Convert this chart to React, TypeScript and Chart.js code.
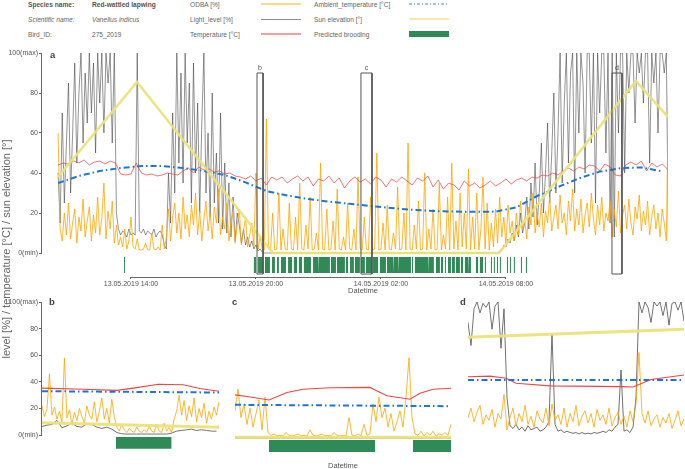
import React, { useEffect, useRef } from 'react';
import { Chart, registerables } from 'chart.js';

Chart.register(...registerables);

const FONT = '"Liberation Sans", Arial, Helvetica, sans-serif';

// ---------------- DATA ----------------
// Main panel (a): time in hours since 13.05.2019 00:00
const xTickValues = [14, 20, 26, 32];
const xTickLabels = ['13.05.2019 14:00', '13.05.2019 20:00', '14.05.2019 02:00', '14.05.2019 08:00'];
const yTickValues = [0, 20, 40, 60, 80, 100];
const yTickLabels = ['0(min)', '20', '40', '60', '80', '100(max)'];

const mainStart = 10.5;
const mainStep = 0.1; // hours between samples of ODBA / light level
const odbaMain = [
  60, 12, 6, 20, 9, 25, 7, 15, 22, 5, 18, 11, 27, 8, 16, 23, 6, 19, 10, 28,
  9, 17, 35, 7, 21, 12, 26, 5, 14, 4, 8, 3, 12, 2, 6, 18, 3, 2, 7, 1.5,
  1.5, 2, 5, 1.5, 1.5, 10, 2, 1.5, 3, 1.5, 14, 2, 8, 22, 6, 18, 25, 10, 20, 7,
  28, 12, 19, 8, 24, 14, 30, 9, 21, 6, 17, 26, 11, 20, 7, 23, 15, 32, 9, 18,
  12, 25, 6, 16, 20, 5, 14, 22, 4, 11, 18, 3, 9, 15, 3, 40, 2, 8, 2, 1.5,
  67, 2, 1.5, 20, 1.5, 2, 30, 1.5, 12, 2, 1.5, 25, 2, 1.5, 18, 1.5, 35, 2, 1.5, 14,
  2, 28, 1.5, 2, 10, 1.5, 45, 2, 1.5, 22, 1.5, 2, 16, 1.5, 32, 2, 1.5, 8, 1.5, 25,
  2, 1.5, 12, 1.5, 38, 2, 1.5, 18, 2, 1.5, 28, 1.5, 2, 50, 1.5, 2, 15, 1.5, 24, 2,
  1.5, 10, 2, 33, 1.5, 2, 20, 1.5, 55, 2, 1.5, 14, 2, 26, 1.5, 2, 40, 1.5, 12, 2,
  22, 1.5, 2, 35, 1.5, 9, 2, 28, 1.5, 45, 2, 16, 1.5, 30, 3, 20, 2, 42, 1.5, 18,
  2, 30, 1.5, 12, 38, 2, 25, 1.5, 15, 3, 22, 5, 28, 8, 18, 4, 24, 10, 16, 6,
  20, 9, 26, 12, 17, 7, 23, 14, 30, 10, 19, 13, 25, 8, 21, 15, 28, 11, 18, 24,
  12, 29, 15, 20, 9, 26, 16, 32, 11, 22, 14, 27, 10, 19, 25, 13, 30, 17, 9, 24,
  14, 28, 11, 20, 16, 26, 8, 22, 13, 31, 10, 19, 24, 12, 27, 15, 9, 23, 17, 29,
  11, 21, 14, 26, 9, 18, 24, 12, 20, 8, 22, 15, 6, 80,
];
const lightMain = [
  40, 15, 70, 25, 55, 85, 30, 60, 95, 45, 80, 100, 55, 90, 65, 100, 70, 95, 50, 100,
  75, 100, 60, 100, 85, 100, 55, 100, 20, 12, 9, 11, 10, 8, 12, 9, 10, 9, 100, 11,
  10, 12, 9, 11, 10, 9, 12, 8, 10, 11, 9, 4, 2, 40, 15, 70, 30, 100, 45, 90,
  35, 100, 55, 85, 25, 95, 40, 75, 20, 65, 100, 30, 60, 18, 80, 25, 50, 15, 70, 12,
  45, 10, 35, 8, 28, 6, 20, 14, 5, 12, 4, 8, 3, 6, 2, 4, 1, 2, 0.5, 0,
  0, 0, 0, 0, 0, 0, 0, 0, 0, 0, 0, 0, 0, 0, 0, 0, 0, 0, 0, 0,
  0, 0, 0, 0, 0, 0, 0, 0, 0, 0, 0, 0, 0, 0, 0, 0, 0, 0, 0, 0,
  0, 0, 0, 0, 0, 0, 0, 0, 0, 0, 0, 0, 0, 0, 0, 0, 0, 0, 0, 0,
  0, 0, 0, 0, 0, 0, 0, 0, 0, 0, 0, 0, 0, 0, 0, 0, 0, 0, 0, 0,
  0, 0, 0, 0, 0, 0, 0, 0, 0, 0, 0, 0, 0, 0, 0, 0, 0, 0, 0, 0,
  0, 0, 0, 0, 0, 0, 0, 0, 0, 0, 0, 0, 1, 2, 4, 3, 7, 5, 10, 6,
  14, 8, 20, 10, 15, 28, 12, 35, 18, 45, 14, 30, 55, 20, 40, 65, 25, 50, 80, 30,
  60, 100, 35, 75, 100, 45, 90, 100, 30, 100, 60, 100, 85, 40, 100, 100, 55, 100, 25, 100,
  70, 100, 100, 50, 100, 15, 100, 8, 100, 60, 100, 100, 40, 100, 80, 100, 100, 65, 100, 90,
  100, 75, 100, 100, 45, 100, 85, 100, 60, 100, 100, 90, 100, 5,
];
const tempStep = 0.25;
const tempMain = [
  44, 45, 44.5, 46, 45, 46.5, 44, 45.5, 46, 44.5, 46, 45,
  39.5, 39, 39.5, 45, 40, 39, 39.5, 38.5, 39, 40, 39.5, 39,
  41, 42.5, 40, 43, 41.5, 42, 40.5, 41, 39.5, 40, 38.5, 38,
  37, 38.5, 36, 37.5, 34, 38, 36.5, 38, 35, 37, 38.5, 36,
  38, 33.5, 37, 36, 38.5, 35, 37.5, 32.5, 36, 38, 35.5, 37,
  34.5, 38, 36.5, 33, 37, 35.5, 38, 36, 34, 37.5, 36, 38.5,
  33, 36.5, 32, 35, 34, 31.5, 36, 33.5, 35, 32.5, 34, 36,
  33.5, 35, 37, 34.5, 36.5, 37.5, 36, 38, 37.5, 39, 38.5, 40,
  39, 41, 42.5, 41, 43, 42, 44, 43.5, 41, 44.5, 43, 39,
  38.5, 44, 45.5, 44, 46, 41, 45, 43, 44.5, 42,
];
const ambientStep = 1;
const ambientMain = [
  35, 38.5, 41, 42.5, 43.5, 43.5, 42.5, 41, 39, 35.3,
  31, 28.7, 27, 25.7, 24.6, 23.5, 22.5, 21.6, 21, 20.7,
  20.6, 20.7, 22.8, 28.5, 33, 37.3, 40.7, 42.4, 42.8, 40.8,
];
const sunMainTimes = [10.5, 14.29, 20.82, 31.67, 38.24, 39.78];
const sunMain = [38, 85.5, 0, 0, 86, 68];
const broodStartMain = [
  13.66, 19.9, 20.1, 20.43, 20.77, 21.01, 21.2, 21.54, 21.82, 22.06, 22.3, 22.74, 23.02, 23.6, 23.89,
  24.32, 24.51, 24.75, 25.04, 25.28, 25.62, 25.95, 26.29, 26.62, 26.86, 27.49, 27.63, 28.3, 28.64,
  28.88, 29.07, 29.22, 29.41, 29.6, 29.84, 30.03, 30.22, 30.42, 30.56, 30.75, 30.99, 31.14, 31.28,
  31.42, 31.57, 31.71, 31.86, 32.05, 32.19, 32.38, 32.58, 32.72, 32.96,
];
const broodEndMain = [
  13.71, 20.0, 20.34, 20.67, 20.91, 21.1, 21.44, 21.73, 21.97, 22.21, 22.64, 22.98, 23.55, 23.84, 24.27,
  24.42, 24.7, 24.99, 25.23, 25.57, 25.86, 26.24, 26.58, 26.82, 27.44, 27.54, 28.26, 28.54, 28.83,
  28.98, 29.12, 29.36, 29.55, 29.79, 29.94, 30.18, 30.32, 30.46, 30.66, 30.9, 31.04, 31.18, 31.33,
  31.47, 31.62, 31.76, 31.9, 32.1, 32.24, 32.43, 32.62, 32.77, 33.01,
];
const zoomLabels = ['b', 'c', 'd'];
const zoomStart = [20.05, 25.04, 37.09];
const zoomEnd = [20.34, 25.57, 37.57];

// Panel b (seconds within window)
const bMax = 1065;
const bOdbaStep = 15;
const bOdba = [
  22, 14, 20, 46, 15, 21, 12, 18, 10, 58,
  13, 19, 8, 17, 11, 20, 14, 9, 22, 15,
  12, 25, 10, 18, 28, 12, 20, 9, 27, 14,
  6, 3, 8, 4, 2, 5, 3, 2, 6, 3,
  2, 4, 2, 7, 3, 2, 8, 3, 2, 9,
  3, 6, 2, 12, 18, 30, 15, 26, 11, 22,
  14, 28, 10, 20, 13, 24, 9, 18, 12, 21,
  15, 25,
];
const bLightStep = 30;
const bLight = [
  6.5, 7.5, 8, 11, 5.5, 7, 9, 6.5, 6, 8.5, 8, 6, 5, 6, 4.5, 2, 1, 0.8,
  0.8, 0.8, 0.8, 0.8, 0.8, 0.8, 0.8, 0.8, 1.5, 3, 3.5, 4, 4.5, 3.5, 4, 3.5, 3, 3,
];
const bTempTimes = [0, 250, 450, 560, 700, 850, 950, 1065];
const bTemp = [35.3, 34.5, 33.6, 35.5, 38.2, 37.8, 35, 33];
const bEdgeTimes = [0, 1065];
const bAmbient = [33, 32];
const bSun = [9.3, 5.9];
const bBroodStart = [444];
const bBroodEnd = [780];

// Panel c
const cMax = 1800;
const cOdbaStep = 25;
const cOdba = [
  20, 36, 15, 25, 10, 22, 8, 18, 28, 6,
  30, 4, 2, 3, 1.5, 2, 1.5, 4, 2, 1.5,
  2, 3, 1.5, 2, 1.5, 6, 2, 1.5, 2, 3,
  1.5, 2, 1.5, 4, 2, 1.5, 2, 1.5, 15, 2,
  1.5, 3, 1.5, 10, 2, 3, 25, 12, 30, 15,
  22, 8, 18, 5, 12, 20, 8, 30, 59, 15,
  3, 2, 5, 1.5, 4, 2, 5, 1.5, 3, 2,
  4, 2, 10,
];
const cTempTimes = [0, 142, 283, 433, 567, 792, 1125, 1167, 1267, 1458, 1542, 1650, 1800];
const cTemp = [31.7, 30, 28, 33.4, 35.8, 37, 37.2, 35.3, 31, 28.5, 32.9, 35.8, 36.6];
const cEdgeTimes = [0, 1800];
const cLight = [0, 0];
const cAmbient = [24.4, 23.4];
const cSun = [0.5, 0.5];
const cBroodStart = [283, 1483];
const cBroodEnd = [1167, 1800];

// Panel d
const dMax = 1800;
const dOdbaStep = 25;
const dOdba = [
  15, 22, 12, 19, 24, 10, 17, 13, 21, 8,
  18, 14, 32, 6, 15, 22, 9, 18, 12, 24,
  10, 16, 8, 20, 14, 11, 22, 9, 25, 13,
  17, 10, 22, 8, 18, 12, 24, 9, 16, 20,
  11, 18, 8, 21, 13, 17, 10, 22, 9, 15,
  19, 10, 16, 8, 20, 12, 25, 63, 18, 11,
  20, 9, 14, 17, 8, 15, 11, 18, 7, 13,
  20, 9, 14,
];
const dLightStep = 25;
const dLight = [
  85, 68, 95, 100, 92, 99, 96, 100, 80, 97,
  100, 66, 95, 30, 9, 7, 10, 6, 8, 5,
  9, 6, 7, 8, 5, 6, 8, 12, 77, 10,
  5, 6, 4, 5, 4, 3.5, 4, 3, 4, 3,
  3.5, 3, 4, 3.5, 4, 5, 4, 6, 5, 8,
  10, 50, 5, 6, 4, 8, 30, 100, 92, 100,
  96, 85, 100, 97, 100, 90, 100, 83, 99, 100,
  94, 100, 86,
];
const dTempTimes = [0, 183, 317, 400, 683, 1292, 1375, 1525, 1800];
const dTemp = [45, 45.5, 44, 40.2, 38.3, 37.8, 37.5, 43, 46.3];
const dEdgeTimes = [0, 1800];
const dAmbient = [42.7, 42.7];
const dSun = [74, 80];

// ---------------- STYLE ----------------
const C_ODBA = 'rgba(255,165,0,0.8)';
const C_LIGHT = 'rgba(60,60,60,0.55)';
const C_TEMP = 'rgba(245,60,60,0.7)';
const C_AMB = '#1c77d1';
const C_SUN = 'rgba(236,226,120,0.95)';
const C_BROOD = '#2e8b57';
const DASH = [6, 3, 1.5, 3];

// ---------------- HELPERS ----------------
const uniform = (start: number, step: number, vals: number[]) => vals.map((v, i) => ({ x: start + i * step, y: v }));
const paired = (xs: number[], ys: number[]) => xs.map((x, i) => ({ x, y: ys[i] }));
const line = (data: any[], color: string, width: number, extra: any = {}) => ({
  data, borderColor: color, borderWidth: width, pointRadius: 0, fill: false, tension: 0, ...extra,
});
const broodDataset = (starts: number[], ends: number[], base: number, top: number) => {
  const pts: any[] = [];
  starts.forEach((s, i) => {
    pts.push({ x: s, y: base }, { x: s, y: top }, { x: ends[i], y: top }, { x: ends[i], y: base });
  });
  return { data: pts, borderWidth: 0, borderColor: 'rgba(0,0,0,0)', pointRadius: 0, tension: 0, fill: { value: base }, backgroundColor: C_BROOD };
};

const decorPlugin = {
  id: 'decor',
  afterDatasetsDraw(chart: any, _args: any, opts: any) {
    const ctx = chart.ctx;
    const xs = chart.scales.x;
    const ys = chart.scales.y;
    ctx.save();
    ctx.strokeStyle = '#666';
    ctx.lineWidth = 1;
    if (opts.yAxis) {
      const px = Math.round(chart.chartArea.left) - 0.5;
      ctx.beginPath();
      ctx.moveTo(px, ys.getPixelForValue(0));
      ctx.lineTo(px, ys.getPixelForValue(100));
      ctx.stroke();
    }
    if (opts.xAxis) {
      const py = Math.round(chart.chartArea.bottom) + 0.5;
      ctx.beginPath();
      ctx.moveTo(xs.getPixelForValue(opts.xAxis[0]), py);
      ctx.lineTo(xs.getPixelForValue(opts.xAxis[1]), py);
      ctx.stroke();
    }
    if (opts.boxes) {
      ctx.fillStyle = '#555';
      ctx.font = `7px ${FONT}`;
      ctx.textAlign = 'center';
      ctx.textBaseline = 'bottom';
      opts.boxes.labels.forEach((lab: string, i: number) => {
        const cx = (xs.getPixelForValue(opts.boxes.start[i]) + xs.getPixelForValue(opts.boxes.end[i])) / 2;
        ctx.fillText(lab, cx, ys.getPixelForValue(opts.boxes.top) - 1);
      });
    }
    ctx.restore();
  },
};

const yScaleVisible = (min: number) => ({
  type: 'linear', min, max: 100,
  afterFit: (s: any) => { s.width = 42; },
  afterBuildTicks: (s: any) => { s.ticks = yTickValues.map((v) => ({ value: v })); },
  grid: { drawOnChartArea: false, drawTicks: true, tickLength: 3, color: '#666' },
  border: { display: false },
  ticks: { padding: 1, color: '#555', font: { size: 7, family: FONT }, callback: (_v: any, i: number) => yTickLabels[i] },
});

function mainConfig(): any {
  const boxTop = 90;
  const boxBottom = -10.5;
  const boxes = zoomLabels.map((_l, i) => line([
    { x: zoomStart[i], y: boxBottom }, { x: zoomStart[i], y: boxTop }, { x: zoomEnd[i], y: boxTop },
    { x: zoomEnd[i], y: boxBottom }, { x: zoomStart[i], y: boxBottom },
  ], '#555', 1));
  const datasets = [
    ...boxes,
    line(paired(sunMainTimes, sunMain), C_SUN, 2.5),
    line(uniform(mainStart, ambientStep, ambientMain), C_AMB, 2, { borderDash: DASH }),
    line(uniform(mainStart, tempStep, tempMain), C_TEMP, 1),
    line(uniform(mainStart, mainStep, odbaMain), C_ODBA, 1),
    line(uniform(mainStart, mainStep, lightMain), C_LIGHT, 1),
    broodDataset(broodStartMain, broodEndMain, -10, -2),
  ];
  return {
    type: 'line',
    data: { datasets },
    options: {
      responsive: false, animation: false, devicePixelRatio: 1,
      layout: { padding: { top: 8, right: 17, bottom: 0, left: 0 } },
      plugins: {
        legend: { display: false }, tooltip: { enabled: false },
        decor: { yAxis: true, xAxis: [xTickValues[0], xTickValues[xTickValues.length - 1]], boxes: { labels: zoomLabels, start: zoomStart, end: zoomEnd, top: boxTop } },
      },
      scales: {
        x: {
          type: 'linear', min: 9.728, max: 39.78,
          afterFit: (s: any) => { s.height = 23; },
          afterBuildTicks: (s: any) => { s.ticks = xTickValues.map((v) => ({ value: v })); },
          grid: { drawOnChartArea: false, drawTicks: true, tickLength: 2, color: '#666' },
          border: { display: false },
          ticks: { autoSkip: false, maxRotation: 0, minRotation: 0, padding: 1, color: '#555', font: { size: 7, family: FONT }, callback: (_v: any, i: number) => xTickLabels[i] },
        },
        y: yScaleVisible(-12),
      },
    },
    plugins: [decorPlugin],
  };
}

function panelConfig(p: any): any {
  const datasets = [
    line(paired(p.edge, p.sun), C_SUN, 3),
    line(paired(p.edge, p.amb), C_AMB, 2, { borderDash: DASH }),
    line(paired(p.tempT, p.temp), 'rgba(240,50,50,0.9)', 1.1),
    line(uniform(0, p.odbaStep, p.odba), C_ODBA, 1),
    line(p.light, 'rgba(90,90,90,0.85)', 1),
  ];
  if (p.broodS) datasets.push(broodDataset(p.broodS, p.broodE, -10.29, -1.47));
  return {
    type: 'line',
    data: { datasets },
    options: {
      responsive: false, animation: false, devicePixelRatio: 1,
      layout: { padding: p.padding },
      plugins: { legend: { display: false }, tooltip: { enabled: false }, decor: { yAxis: p.showY } },
      scales: {
        x: { type: 'linear', min: 0, max: p.max, display: false },
        y: p.showY ? yScaleVisible(-11.03) : { type: 'linear', min: -11.03, max: 100, display: false },
      },
    },
    plugins: [decorPlugin],
  };
}

function ChartCanvas({ left, top, width, height, make }: any) {
  const ref = useRef<HTMLCanvasElement | null>(null);
  useEffect(() => {
    const chart = new Chart(ref.current as HTMLCanvasElement, make());
    return () => chart.destroy();
  }, []);
  return <canvas ref={ref} width={width} height={height} style={{ position: 'absolute', left, top, width, height }} />;
}

const txt = (extra: any) => ({ position: 'absolute', fontFamily: FONT, whiteSpace: 'nowrap', color: '#666', fontWeight: 'normal', ...extra });

export default function App() {
  const hdr = (x: number, top: number, s: string, extra: any = {}) => (
    <div style={txt({ left: x, top, fontSize: '6.6px', lineHeight: '9px', ...extra })}>{s}</div>
  );
  const letter = (x: number, y: number, s: string) => (
    <div style={txt({ left: x - 3, top: y - 6, fontSize: '9.5px', lineHeight: '11px', fontWeight: 'bold', color: '#444' })}>{s}</div>
  );
  return (
    <div style={{ position: 'fixed', left: 0, top: 0, width: 685, height: 469, background: '#fff', overflow: 'hidden' }}>
      {hdr(28, 0, 'Species name:', { fontWeight: 'bold', color: '#555' })}
      {hdr(92, 0, 'Red-wattled lapwing', { fontWeight: 'bold', color: '#555' })}
      {hdr(190, 0, 'ODBA [%]')}
      {hdr(314, 0, 'Ambient_temperature [°C]')}
      {hdr(28, 15, 'Scientific name:', { fontStyle: 'italic' })}
      {hdr(92, 15, 'Vanellus indicus', { fontStyle: 'italic' })}
      {hdr(190, 15, 'Light_level [%]')}
      {hdr(314, 15, 'Sun elevation [°]')}
      {hdr(28, 30, 'Bird_ID:')}
      {hdr(92, 30, '275_2019')}
      {hdr(190, 30, 'Temperature [°C]')}
      {hdr(314, 30, 'Predicted brooding')}
      <svg width={685} height={45} style={{ position: 'absolute', left: 0, top: 0 }}>
        <line x1={261} x2={301} y1={4} y2={4} stroke="#fbd88e" strokeWidth={2} />
        <line x1={261} x2={301} y1={19.5} y2={19.5} stroke="#8a8a8a" strokeWidth={1} />
        <line x1={261} x2={301} y1={34} y2={34} stroke="#f8a0a0" strokeWidth={2} />
        <line x1={409} x2={449} y1={4} y2={4} stroke="#86b3e3" strokeWidth={1.5} strokeDasharray="3 2 1 2" />
        <line x1={409} x2={449} y1={19} y2={19} stroke="#efe48a" strokeWidth={1.5} />
        <rect x={409} y={31} width={40} height={6} fill={C_BROOD} />
      </svg>

      <ChartCanvas left={0} top={45} width={685} height={255} make={mainConfig} />
      <ChartCanvas left={0} top={290} width={225} height={165} make={() => panelConfig({
        edge: bEdgeTimes, sun: bSun, amb: bAmbient, tempT: bTempTimes, temp: bTemp,
        odbaStep: bOdbaStep, odba: bOdba, light: uniform(0, bLightStep, bLight),
        broodS: bBroodStart, broodE: bBroodEnd, max: bMax, showY: true,
        padding: { top: 12, bottom: 2, left: 0, right: 6 },
      })} />
      <ChartCanvas left={225} top={290} width={231} height={165} make={() => panelConfig({
        edge: cEdgeTimes, sun: cSun, amb: cAmbient, tempT: cTempTimes, temp: cTemp,
        odbaStep: cOdbaStep, odba: cOdba, light: paired(cEdgeTimes, cLight),
        broodS: cBroodStart, broodE: cBroodEnd, max: cMax, showY: false,
        padding: { top: 12, bottom: 2, left: 10, right: 5 },
      })} />
      <ChartCanvas left={456} top={290} width={229} height={165} make={() => panelConfig({
        edge: dEdgeTimes, sun: dSun, amb: dAmbient, tempT: dTempTimes, temp: dTemp,
        odbaStep: dOdbaStep, odba: dOdba, light: uniform(0, dLightStep, dLight),
        max: dMax, showY: false,
        padding: { top: 12, bottom: 2, left: 12, right: 1 },
      })} />

      {letter(53, 55, 'a')}
      {letter(52, 302, 'b')}
      {letter(235, 302, 'c')}
      {letter(463, 302, 'd')}

      <div style={txt({ left: 323, top: 286, width: 80, textAlign: 'center', fontSize: '7.5px', lineHeight: '9px', color: '#555' })}>Datetime</div>
      <div style={txt({ left: 303, top: 461, width: 80, textAlign: 'center', fontSize: '7.5px', lineHeight: '9px', color: '#555' })}>Datetime</div>
      <div style={txt({ left: -144, top: 243, width: 300, height: 12, lineHeight: '12px', textAlign: 'center', fontSize: '11px', color: '#666', transform: 'rotate(-90deg)' })}>
        level [%] / temperature [°C] / sun elevation [°]
      </div>
    </div>
  );
}
